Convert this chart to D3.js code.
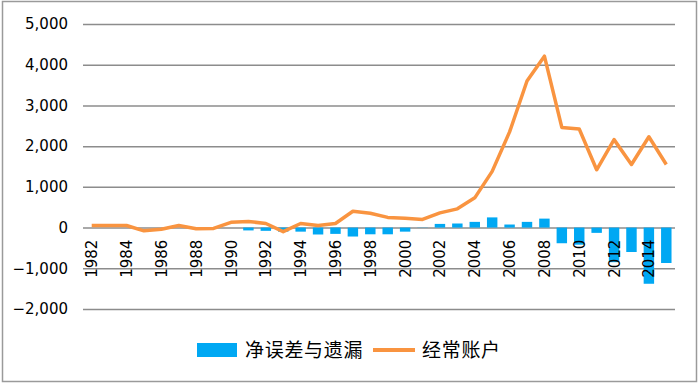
<!DOCTYPE html>
<html>
<head>
<meta charset="utf-8">
<script src="https://cdn.jsdelivr.net/npm/d3@7"></script>
<style>
  body { margin: 0; background: #fff; }
  svg text { font-family: "DejaVu Sans", Verdana, sans-serif; }
</style>
</head>
<body>
<div id="chart"></div>
<script>
// years on the x axis
var years = [1982, 1983, 1984, 1985, 1986, 1987, 1988, 1989, 1990, 1991,
             1992, 1993, 1994, 1995, 1996, 1997, 1998, 1999, 2000, 2001,
             2002, 2003, 2004, 2005, 2006, 2007, 2008, 2009, 2010, 2011,
             2012, 2013, 2014, 2015];

// 净误差与遗漏 (bars)
var netErrors = [0, 0, 0, 0, 0, 0, 0, 0, 0, -70,
                 -80, -100, -100, -170, -155, -220, -165, -165, -100, -5,
                 90, 100, 140, 250, 75, 140, 220, -385, -420, -130,
                 -850, -600, -1380, -870];

// 经常账户 (line)
var currentAccount = [50, 50, 50, -80, -40, 50, -30, -20, 130, 150,
                      100, -100, 100, 50, 100, 400, 350, 250, 230, 200,
                      360, 460, 730, 1380, 2350, 3600, 4210, 2460, 2420, 1420,
                      2160, 1550, 2230, 1550];

var yTicks = [-2000, -1000, 0, 1000, 2000, 3000, 4000, 5000];
var seriesNames = ["净误差与遗漏", "经常账户"];

function init() {
    var w = 700, h = 383,
        left = 83, right = 675, top = 24, bottom = 309;

    var svg = d3.select("#chart")
        .append("svg")
        .attr("width", w)
        .attr("height", h);

    // frame
    svg.append("rect")
        .attr("x", 2.5).attr("y", 1.5)
        .attr("width", 694).attr("height", 380)
        .attr("fill", "#fff")
        .attr("stroke", "#9a9a9a")
        .attr("stroke-width", 1.5);

    var xScale = d3.scaleBand()
        .domain(years)
        .range([left, right])
        .paddingInner(0.4)
        .paddingOuter(0.2);

    var yScale = d3.scaleLinear()
        .domain([-2000, 5000])
        .range([bottom, top]);

    // gridlines + y labels
    var yAxis = d3.axisLeft(yScale)
        .tickValues(yTicks)
        .tickSize(-(right - left))
        .tickPadding(15)
        .tickFormat(d3.format(","));

    var gy = svg.append("g")
        .attr("transform", "translate(" + left + ",0)")
        .call(yAxis);
    gy.select(".domain").remove();
    gy.selectAll(".tick line")
        .attr("stroke", "#8c8c8c")
        .attr("stroke-width", 1.5);
    gy.selectAll(".tick text")
        .attr("fill", "#000")
        .style("font-size", "15px");

    // bars
    var y0 = yScale(0);
    svg.append("g")
        .selectAll("rect")
        .data(years)
        .enter()
        .append("rect")
        .attr("x", d => xScale(d))
        .attr("width", xScale.bandwidth())
        .attr("y", (d, i) => Math.min(yScale(netErrors[i]), y0))
        .attr("height", (d, i) => Math.abs(yScale(netErrors[i]) - y0))
        .attr("fill", "#00a8f3");

    // line
    var line = d3.line()
        .x((d, i) => xScale(years[i]) + xScale.bandwidth() / 2)
        .y(d => yScale(d));

    svg.append("path")
        .datum(currentAccount)
        .attr("d", line)
        .attr("fill", "none")
        .attr("stroke", "#f99440")
        .attr("stroke-width", 3.5)
        .attr("stroke-linejoin", "round");

    // x labels (every other year), rotated
    svg.append("g")
        .selectAll("text")
        .data(years.filter((d, i) => i % 2 === 0))
        .enter()
        .append("text")
        .attr("transform", d => "translate(" + (xScale(d) + xScale.bandwidth() / 2 + 5.5) + "," + (y0 + 12) + ") rotate(-90)")
        .attr("text-anchor", "end")
        .style("font-size", "15px")
        .attr("fill", "#000")
        .text(d => d);

    // legend
    var legend = svg.append("g");
    legend.append("rect")
        .attr("x", 197).attr("y", 343)
        .attr("width", 40).attr("height", 14)
        .attr("fill", "#00a8f3");
    legend.append("text")
        .attr("x", 245).attr("y", 357)
        .style("font-size", "19px")
        .style("letter-spacing", "0.7px")
        .style("font-family", "'Noto Sans CJK SC', sans-serif")
        .text(seriesNames[0]);
    legend.append("line")
        .attr("x1", 373).attr("x2", 415)
        .attr("y1", 350).attr("y2", 350)
        .attr("stroke", "#f99440")
        .attr("stroke-width", 4);
    legend.append("text")
        .attr("x", 422).attr("y", 357)
        .style("font-size", "19px")
        .style("letter-spacing", "0.7px")
        .style("font-family", "'Noto Sans CJK SC', sans-serif")
        .text(seriesNames[1]);
}

init();
</script>
</body>
</html>
